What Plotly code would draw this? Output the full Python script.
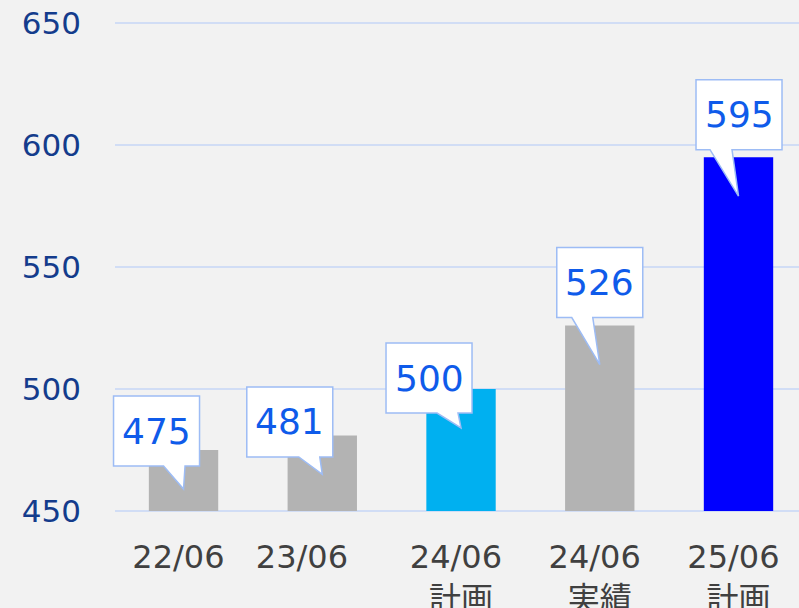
import plotly.graph_objects as go

# ---- data ----
categories = ["22/06", "23/06", "24/06<br>計画", "24/06<br>実績", "25/06<br>計画"]
values = [475, 481, 500, 526, 595]
bar_colors = ["#b3b3b3", "#b3b3b3", "#00b0f0", "#b3b3b3", "#0000ff"]
y_ticks = [450, 500, 550, 600, 650]

# ---- label layout: trailing padding on first line of each tick label ----
first_line_pad = [1, 4, 1, 1, 1]

# ---- callout layout (pixel offsets relative to bar top centre) ----
box_dx = [-27, -32.5, -32, 0, 0.5]
box_dy = [-19, -13.5, -11, -43, -42.5]
tail_x0 = [-20, -23.5, -24, -28, -28.5]
tail_x1 = [1.5, -2.5, -3, -7, -6.5]
tip_dy = 39
box_w, box_h = 86, 70

W, H = 799, 608
ml, mr, mt, mb = 108, 0, 22, 96
pxx = 684 / 4.93                # pixels per category step
grid_left = -0.494              # gridlines start here (x units)
xr = [grid_left - 7 / pxx, grid_left + (W - ml - mr) / pxx - 7 / pxx]
yr = [449.6, 650.4]
pxy = (H - mt - mb) / (yr[1] - yr[0])

xs = list(range(len(categories)))

ticktext = []
for c, p in zip(categories, first_line_pad):
    parts = c.split("<br>")
    parts[0] = parts[0] + "\u00a0" * p
    ticktext.append("<br>".join(parts))

fig = go.Figure()
fig.add_trace(go.Bar(
    x=xs, y=[v - y_ticks[0] for v in values], base=y_ticks[0],
    marker=dict(color=bar_colors, line=dict(width=0)),
    width=0.5, hoverinfo="skip",
))

shapes = []
for g in y_ticks:
    shapes.append(dict(type="line", xref="x", yref="y", x0=grid_left, x1=xr[1], y0=g, y1=g,
                       line=dict(color="#c6d6f6", width=1.5), layer="below"))

annotations = []
for i, v in enumerate(values):
    def X(px):
        return xs[i] + px / pxx
    def Y(py):
        return v - py / pxy
    cx, cy = box_dx[i], box_dy[i]
    l, r = cx - box_w / 2, cx + box_w / 2
    t, b = cy - box_h / 2, cy + box_h / 2
    path = (f"M {X(l)},{Y(t)} L {X(r)},{Y(t)} L {X(r)},{Y(b)} "
            f"L {X(tail_x1[i])},{Y(b)} L {X(0)},{Y(tip_dy)} L {X(tail_x0[i])},{Y(b)} "
            f"L {X(l)},{Y(b)} Z")
    shapes.append(dict(type="path", path=path, xref="x", yref="y",
                       fillcolor="white", line=dict(color="#9dbcf5", width=1.5),
                       layer="above"))
    annotations.append(dict(x=X(cx), y=Y(cy), xref="x", yref="y", text=str(v),
                            showarrow=False,
                            font=dict(family="DejaVu Sans", size=36, color="#0f5bea"),
                            xanchor="center", yanchor="middle"))

fig.update_layout(
    width=W, height=H, autosize=False,
    margin=dict(l=ml, r=mr, t=mt, b=mb, pad=0),
    paper_bgcolor="#f2f2f2", plot_bgcolor="#f2f2f2",
    showlegend=False,
    shapes=shapes, annotations=annotations,
    xaxis=dict(range=xr, tickvals=xs, ticktext=ticktext, showgrid=False,
               zeroline=False, showline=False, ticks="", automargin=False,
               tickfont=dict(family="DejaVu Sans, Noto Sans CJK JP", size=32, color="#404040"),
               ticklabelstandoff=23),
    yaxis=dict(range=yr, tickvals=y_ticks, showgrid=False,
               zeroline=False, showline=False, ticks="", automargin=False,
               tickfont=dict(family="DejaVu Sans", size=31, color="#143c8c"),
               ticklabelstandoff=26),
)

fig.write_html("out.html", config={"displayModeBar": False},
               post_script="document.body.style.margin='0';document.body.style.overflow='hidden';")
